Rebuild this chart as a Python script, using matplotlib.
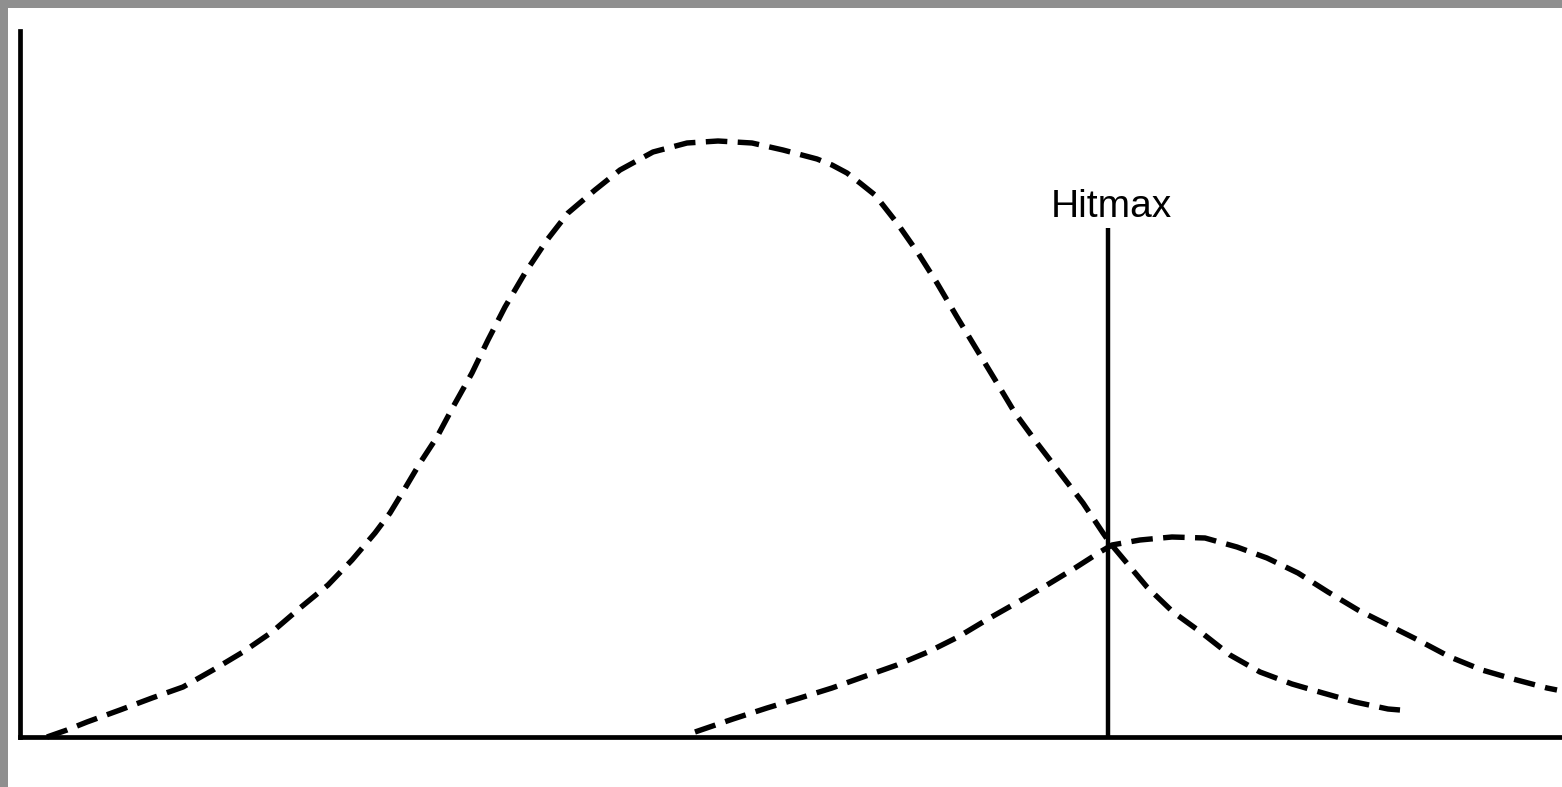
import matplotlib
matplotlib.use("Agg")
import matplotlib.pyplot as plt
from matplotlib.patches import Rectangle

# Distribution of the larger population (dashed bell, left)
big_x = [27, 47, 67, 100, 132, 163, 193, 223, 252, 280, 308, 332, 355, 370, 384,
         400, 417, 433, 452, 468, 485, 505, 527, 548, 575, 600, 633, 667, 698, 732,
         763, 797, 812, 827, 840, 855, 877, 898, 917, 937, 957, 977, 995, 1017,
         1040, 1063, 1083, 1090, 1127, 1153, 1182, 1210, 1240, 1272, 1303, 1335,
         1368, 1380]
big_y = [0, 7, 15, 27, 39, 50, 67, 85, 105, 129, 152, 177, 204, 224, 247,
         274, 300, 330, 364, 397, 430, 464, 497, 524, 547, 567, 585, 594, 596, 594,
         587, 578, 572, 564, 554, 542, 514, 484, 454, 420, 387, 354, 324, 294,
         264, 234, 204, 194, 150, 125, 104, 82, 65, 53, 44, 35,
         28, 27]

# Distribution of the smaller population (dashed bell, right)
small_x = [675, 713, 747, 780, 812, 843, 877, 908, 938, 968, 998, 1027, 1055, 1080,
           1092, 1120, 1152, 1185, 1217, 1247, 1278, 1308, 1338, 1368, 1398, 1430,
           1462, 1493, 1527, 1537]
small_y = [5, 18, 29, 39, 49, 60, 72, 85, 100, 118, 135, 152, 169, 185,
           192, 197, 200, 199, 190, 179, 164, 145, 127, 112, 97, 80,
           67, 58, 49, 47]

# Threshold marker
hitmax_x = 1088
hitmax_top = 509
hitmax_label = "Hitmax"

W, H = 1562, 787
fig = plt.figure(figsize=(W / 100, H / 100), dpi=100)
fig.patch.set_facecolor("#8f8f8f")
fig.patches.append(Rectangle((8 / W, 0), 1, (H - 8) / H, transform=fig.transFigure,
                             facecolor="white", edgecolor="none", zorder=-5))

ax = fig.add_axes([20 / W, 50 / H, (W - 20) / W, 706 / H])
ax.set_facecolor("none")
ax.set_xlim(0, W - 20)
ax.set_ylim(0, 706)
for side in ("top", "right"):
    ax.spines[side].set_visible(False)
for side in ("left", "bottom"):
    ax.spines[side].set_linewidth(3.4)
    ax.spines[side].set_color("black")
    ax.spines[side].set_capstyle("projecting")
ax.set_xticks([])
ax.set_yticks([])

plt.rcParams["lines.scale_dashes"] = False
dash = (0, (15.5, 7.5))
for xs, ys in ((big_x, big_y), (small_x, small_y)):
    ax.plot(xs, ys, color="black", lw=3.9, linestyle=dash,
            dash_capstyle="butt", dash_joinstyle="round", clip_on=False)

ax.plot([hitmax_x, hitmax_x], [0, hitmax_top], color="black", lw=3.2,
        solid_capstyle="butt")
ax.text(hitmax_x + 3, 520, hitmax_label, ha="center", va="baseline",
        fontsize=28, family="Liberation Sans")

fig.savefig("out.png", dpi=100)
